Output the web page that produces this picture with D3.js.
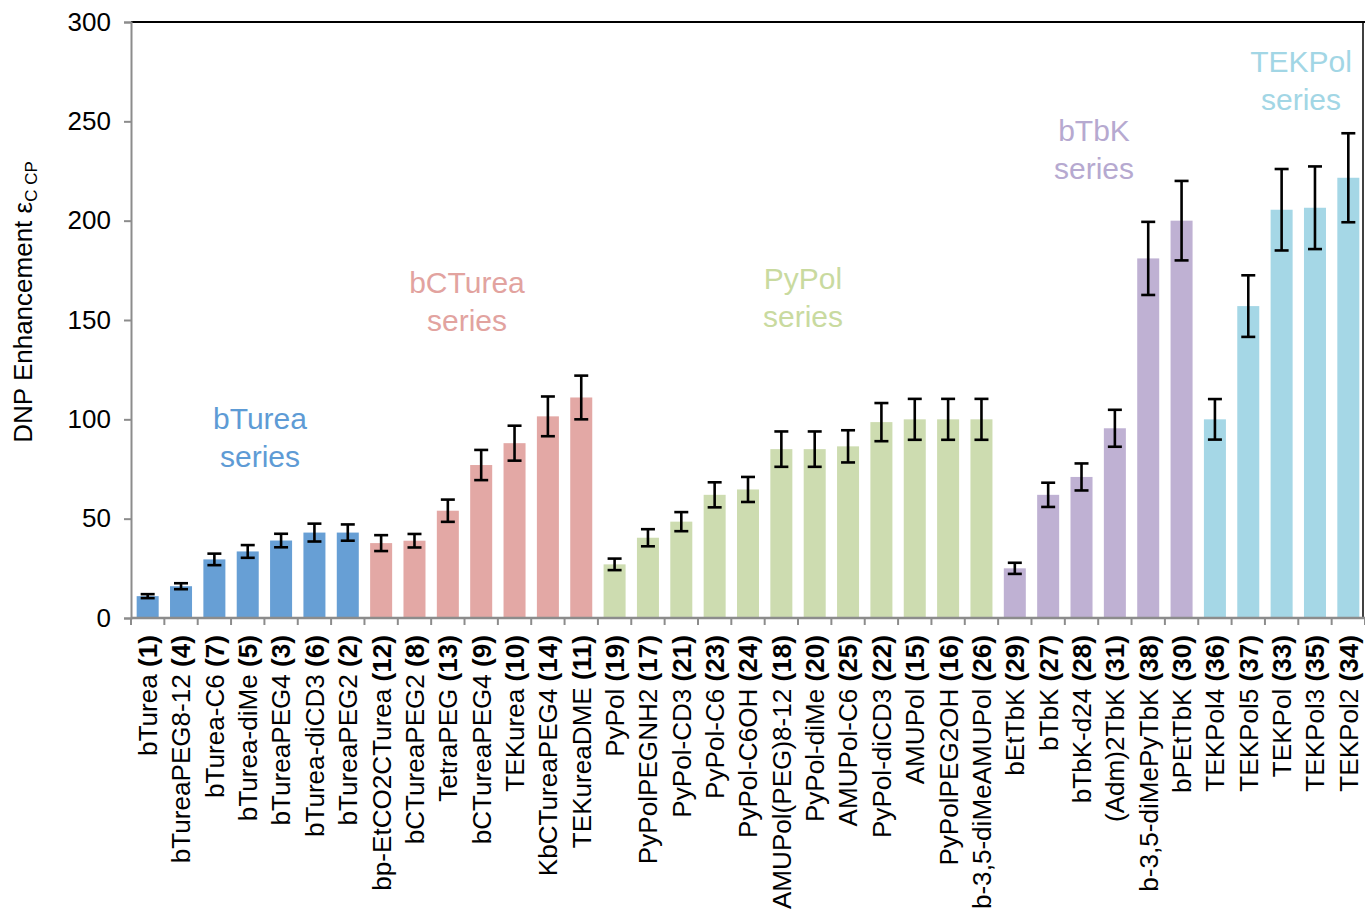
<!DOCTYPE html>
<html>
<head>
<meta charset="utf-8">
<script src="https://cdn.jsdelivr.net/npm/d3@7"></script>
<style>
  body { margin: 0; background: #fff; }
  svg { display: block; font-family: "Liberation Sans", Arial, sans-serif; }
</style>
</head>
<body>
<svg id="chart" width="1365" height="913"></svg>
<script>
// ---- data ----
const names = ["bTurea","bTureaPEG8-12","bTurea-C6","bTurea-diMe","bTureaPEG4","bTurea-diCD3","bTureaPEG2",
  "bp-EtCO2CTurea","bCTureaPEG2","TetraPEG","bCTureaPEG4","TEKurea","KbCTureaPEG4","TEKureaDME",
  "PyPol","PyPolPEGNH2","PyPol-CD3","PyPol-C6","PyPol-C6OH","AMUPol(PEG)8-12","PyPol-diMe","AMUPol-C6","PyPol-diCD3","AMUPol","PyPolPEG2OH","b-3,5-diMeAMUPol",
  "bEtTbK","bTbK","bTbK-d24","(Adm)2TbK","b-3,5-diMePyTbK","bPEtTbK",
  "TEKPol4","TEKPol5","TEKPol","TEKPol3","TEKPol2"];
const numbers = [1,4,7,5,3,6,2, 12,8,13,9,10,14,11, 19,17,21,23,24,18,20,25,22,15,16,26, 29,27,28,31,38,30, 36,37,33,35,34];
const values = [11,16,29.5,33.5,39,43,43, 37.7,38.9,54,77,88,101.5,111, 27,40.4,48.5,62,64.7,85,85,86.4,98.6,100,100,100, 25,62,71,95.5,181,200, 100,157,205.5,206.5,221.6];
const errors = [1,1.5,2.9,3.2,3.4,4.5,4.1, 4,3.4,5.6,7.6,8.8,10,11, 2.9,4.3,4.8,6.3,6.3,8.9,8.9,8.1,9.6,10.3,10.3,10.3, 2.8,6.1,6.8,9.3,18.4,20, 10.2,15.5,20.5,20.8,22.4];
const seriesNames = ["bTurea","bCTurea","PyPol","bTbK","TEKPol"];
const seriesCounts = [7,7,12,6,5];
const yTicks = [0,50,100,150,200,250,300];

// ---- styles ----
const barColors = ["#679fd5","#e3a8a5","#cddcb0","#bfb1d3","#a5d7e6"];
const textColors = ["#5e9bd5","#e2a39f","#c9da9f","#b6a9d0","#a2d6e5"];
const labelPos = [ // center x, baseline y of first line
  [260, 429],[467, 293],[803, 289],[1094, 141],[1301, 72]
];

const seriesOf = [];
seriesCounts.forEach((c, i) => { for (let k = 0; k < c; k++) seriesOf.push(i); });
const data = names.map((n, i) => ({ name: n, num: numbers[i], v: values[i], e: errors[i], s: seriesOf[i], key: i }));

const svg = d3.select("#chart");
const L = 131, R = 1365, T = 22, B = 618;

const x = d3.scaleBand().domain(data.map(d => d.key)).range([L, R]).paddingInner(0.34).paddingOuter(0.17);
const y = d3.scaleLinear().domain([0, 300]).range([B, T]);

// bars
svg.append("g").selectAll("rect").data(data).join("rect")
  .attr("x", d => x(d.key))
  .attr("width", x.bandwidth())
  .attr("y", d => y(d.v))
  .attr("height", d => y(0) - y(d.v))
  .attr("fill", d => barColors[d.s]);

// error bars
const eg = svg.append("g").attr("stroke", "#000").attr("stroke-width", 2.6).attr("fill", "none");
data.forEach(d => {
  const cx = x(d.key) + x.bandwidth() / 2, cw = 7;
  const y1 = y(d.v + d.e), y2 = y(d.v - d.e);
  eg.append("line").attr("x1", cx).attr("x2", cx).attr("y1", y1).attr("y2", y2);
  eg.append("line").attr("x1", cx - cw).attr("x2", cx + cw).attr("y1", y1).attr("y2", y1);
  eg.append("line").attr("x1", cx - cw).attr("x2", cx + cw).attr("y1", y2).attr("y2", y2);
});

// frame top & right
svg.append("line").attr("x1", L).attr("x2", R).attr("y1", T).attr("y2", T).attr("stroke", "#000").attr("stroke-width", 2);
svg.append("line").attr("x1", R - 2).attr("x2", R - 2).attr("y1", T).attr("y2", B).attr("stroke", "#000").attr("stroke-width", 1.5);

// y axis
const yAxis = svg.append("g").attr("transform", `translate(${L},0)`)
  .call(d3.axisLeft(y).tickValues(yTicks).tickSize(7).tickPadding(13));
yAxis.select(".domain").attr("stroke", "#8c8c8c").attr("stroke-width", 2);
yAxis.selectAll(".tick line").attr("stroke", "#8c8c8c").attr("stroke-width", 2);
yAxis.selectAll(".tick text").attr("font-size", 26).attr("fill", "#000").attr("font-family", "Liberation Sans, Arial, sans-serif");

// x axis (ticks at band edges)
const step = x.step();
const edges = d3.range(data.length + 1).map(i => L + i * step);
const xg = svg.append("g");
xg.append("line").attr("x1", L).attr("x2", R).attr("y1", B).attr("y2", B).attr("stroke", "#8c8c8c").attr("stroke-width", 2.5);
xg.selectAll("line.tk").data(edges).join("line").attr("class", "tk")
  .attr("x1", d => d).attr("x2", d => d).attr("y1", B).attr("y2", B + 7)
  .attr("stroke", "#8c8c8c").attr("stroke-width", 2);

// category labels
const cl = svg.append("g").selectAll("text").data(data).join("text")
  .attr("transform", d => `translate(${x(d.key) + x.bandwidth() / 2},${B + 17}) rotate(-90)`)
  .attr("text-anchor", "end")
  .attr("dy", "0.36em")
  .attr("font-size", 26.1)
  .attr("fill", "#000");
cl.append("tspan").text(d => d.name + " ");
cl.append("tspan").attr("font-weight", "bold").text(d => "(" + d.num + ")");

// y axis title
const yt = svg.append("text")
  .attr("transform", "translate(32,302) rotate(-90)")
  .attr("text-anchor", "middle")
  .attr("font-size", 26)
  .attr("fill", "#000");
yt.append("tspan").text("DNP Enhancement ε");
yt.append("tspan").attr("font-size", 17).attr("dy", 5).text("C CP");

// series labels
seriesNames.forEach((s, i) => {
  const t = svg.append("text").attr("text-anchor", "middle").attr("fill", textColors[i]).attr("font-size", 30);
  t.append("tspan").attr("x", labelPos[i][0]).attr("y", labelPos[i][1]).text(s);
  t.append("tspan").attr("x", labelPos[i][0]).attr("y", labelPos[i][1] + 38).text("series");
});
</script>
</body>
</html>
